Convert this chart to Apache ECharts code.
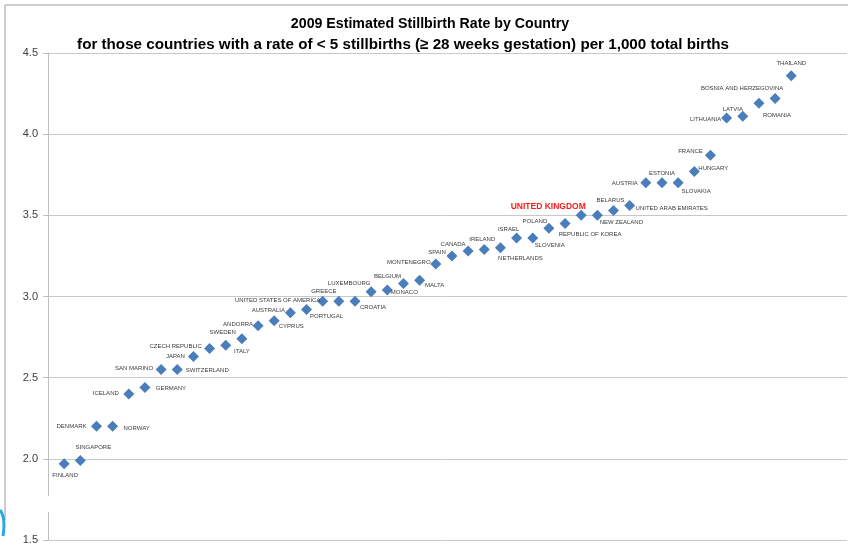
<!DOCTYPE html>
<html>
<head>
<meta charset="utf-8">
<script src="https://cdn.jsdelivr.net/npm/echarts@6/dist/echarts.min.js"></script>
<style>
  html, body { margin: 0; padding: 0; background: #fff; }
  #chart { width: 848px; height: 550px; }
</style>
</head>
<body>
<div id="chart"></div>
<script>
// Countries ordered by estimated stillbirth rate (per 1,000 total births, 2009)
const countries = [
  'FINLAND', 'SINGAPORE', 'DENMARK', 'NORWAY', 'ICELAND', 'GERMANY',
  'SAN MARINO', 'SWITZERLAND', 'JAPAN', 'CZECH REPUBLIC', 'SWEDEN', 'ITALY',
  'ANDORRA', 'CYPRUS', 'AUSTRALIA', 'PORTUGAL', 'UNITED STATES OF AMERICA', 'GREECE',
  'CROATIA', 'LUXEMBOURG', 'MONACO', 'BELGIUM', 'MALTA', 'MONTENEGRO',
  'SPAIN', 'CANADA', 'IRELAND', 'NETHERLANDS', 'ISRAEL', 'SLOVENIA',
  'POLAND', 'REPUBLIC OF KOREA', 'UNITED KINGDOM', 'NEW ZEALAND', 'BELARUS', 'UNITED ARAB EMIRATES',
  'AUSTRIA', 'ESTONIA', 'SLOVAKIA', 'HUNGARY', 'FRANCE', 'LITHUANIA',
  'LATVIA', 'ROMANIA', 'BOSNIA AND HERZEGOVINA', 'THAILAND'
];

const rates = [
  1.97, 1.99, 2.20, 2.20, 2.40, 2.44,
  2.55, 2.55, 2.63, 2.68, 2.70, 2.74,
  2.82, 2.85, 2.90, 2.92, 2.97, 2.97,
  2.97, 3.03, 3.04, 3.08, 3.10, 3.20,
  3.25, 3.28, 3.29, 3.30, 3.36, 3.36,
  3.42, 3.45, 3.50, 3.50, 3.53, 3.56,
  3.70, 3.70, 3.70, 3.77, 3.87, 4.10,
  4.11, 4.19, 4.22, 4.36
];

const yTicks = [1.5, 2.0, 2.5, 3.0, 3.5, 4.0, 4.5];

const highlighted = 'UNITED KINGDOM';

// Label placement: [dx, dy] of the label centre from its marker
const labelOffsets = [
  [1, 12], [13, -13], [-25, 0], [24, 2], [-23, -1], [26, 1],
  [-27, -1], [30, 1], [-18, 0], [-34, -2], [-3, -13], [0, 13],
  [-20, -1], [17, 5], [-22, -2], [20, 7], [-45, -1], [-15, -10],
  [18, 6], [-22, -8], [17, 2], [-16, -7], [15, 5], [-27, -2],
  [-15, -4], [-15, -7], [-2, -10], [20, 11], [-8, -9], [17, 7],
  [-14, -7], [25, 11], [-33, -9], [24, 7], [-3, -10], [42, 3],
  [-21, 0], [0, -10], [18, 8], [19, -3], [-20, -4], [-21, 1],
  [-10, -7], [18, 12], [-33, -10], [0, -12]
];

const labelFont = '"Liberation Sans Narrow", "Liberation Sans", Arial, sans-serif';

const points = countries.map((name, i) => {
  const isHi = name === highlighted;
  return {
    name: name,
    value: [i, rates[i]],
    label: {
      offset: labelOffsets[i],
      color: isHi ? '#ff1a1a' : '#3a3a3a',
      fontSize: isHi ? 8.5 : 6,
      fontWeight: isHi ? 'bold' : 'normal'
    }
  };
});

const chart = echarts.init(document.getElementById('chart'), null, { renderer: 'canvas' });

chart.setOption({
  animation: false,
  backgroundColor: '#ffffff',
  title: [
    {
      text: '2009 Estimated Stillbirth Rate by Country',
      left: 425, top: 12, textAlign: 'center',
      textStyle: { fontFamily: labelFont, fontSize: 14.2, fontWeight: 'bold', color: '#000' }
    },
    {
      text: 'for those countries with a rate of < 5 stillbirths (\u2265 28 weeks gestation) per 1,000 total births',
      left: 398, top: 32, textAlign: 'center',
      textStyle: { fontFamily: labelFont, fontSize: 15.2, fontWeight: 'bold', color: '#000' }
    }
  ],
  grid: { left: 48, right: 1, top: 53, bottom: 10, containLabel: false },
  xAxis: {
    type: 'value',
    min: -1,
    max: 48.45,
    show: false
  },
  yAxis: {
    type: 'value',
    min: yTicks[0],
    max: yTicks[yTicks.length - 1],
    interval: 0.5,
    axisLine: { show: true, onZero: false, lineStyle: { color: '#bfbfbf', width: 1 } },
    axisTick: { show: true, length: 5, lineStyle: { color: '#bfbfbf' } },
    axisLabel: {
      margin: 10,
      color: '#404040',
      fontSize: 11,
      fontFamily: '"Liberation Sans", Arial, sans-serif',
      formatter: v => v.toFixed(1)
    },
    splitLine: { show: true, lineStyle: { color: '#c8c8c8', width: 1 } }
  },
  series: [{
    type: 'scatter',
    symbol: 'diamond',
    symbolSize: [11, 11],
    itemStyle: { color: '#4a7ebb', opacity: 1 },
    data: points,
    label: {
      show: true,
      position: 'inside',
      align: 'center',
      verticalAlign: 'middle',
      fontFamily: labelFont,
      formatter: '{b}'
    },
    emphasis: { disabled: true }
  }],
  graphic: [
    // slide frame
    { type: 'line', shape: { x1: 5, y1: 5, x2: 848, y2: 5 }, style: { stroke: '#9a9a9a', lineWidth: 1 }, silent: true },
    { type: 'line', shape: { x1: 5, y1: 5, x2: 5, y2: 520 }, style: { stroke: '#9a9a9a', lineWidth: 1 }, silent: true },
    // blue swoosh in the corner of the slide
    {
      type: 'bezierCurve',
      shape: { x1: 0, y1: 510, cpx1: 6, cpy1: 518, x2: 3, y2: 536 },
      style: { stroke: '#29a8e0', lineWidth: 3, fill: null },
      silent: true
    },
    // white patch across the axis line near the bottom
    { type: 'rect', shape: { x: 45, y: 496, width: 6, height: 16 }, style: { fill: '#ffffff' }, silent: true, z: 100 }
  ]
});
</script>
</body>
</html>
